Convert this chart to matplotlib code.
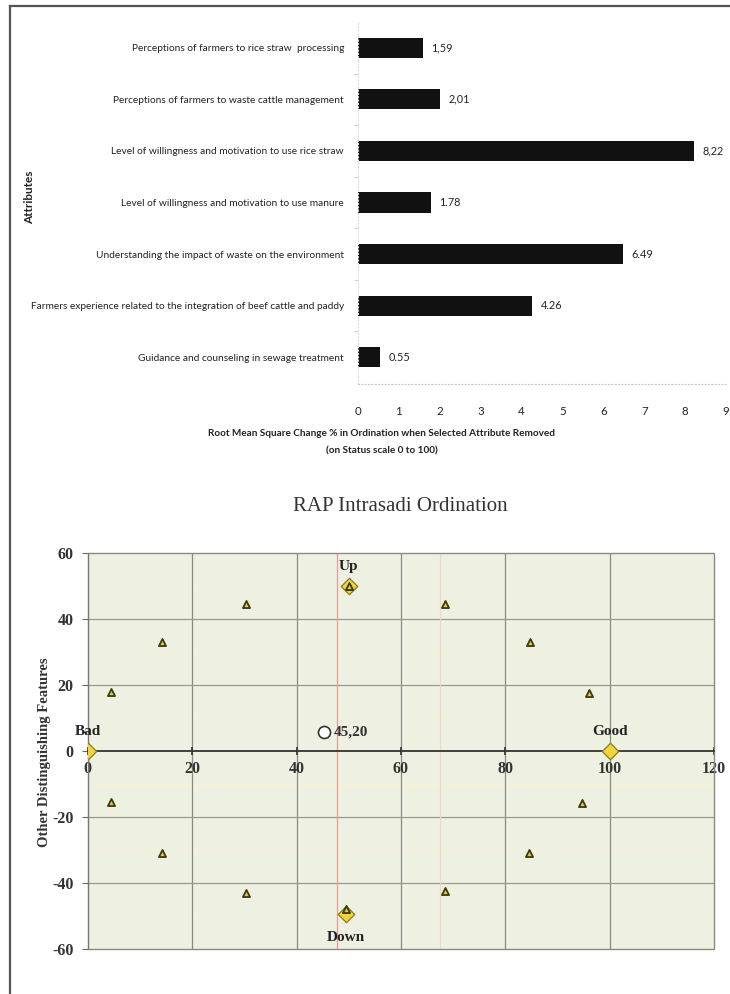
import matplotlib
matplotlib.use("Agg")
import matplotlib.pyplot as plt
from matplotlib.lines import Line2D
from matplotlib.patches import Rectangle

plt.rcParams['axes.unicode_minus'] = False
NARROW = ['Lato', 'DejaVu Sans']
SERIF = ['Liberation Serif', 'DejaVu Serif']

# leverage analysis
attributes = [
    "Perceptions of farmers to rice straw  processing",
    "Perceptions of farmers to waste cattle management",
    "Level of willingness and motivation to use rice straw",
    "Level of willingness and motivation to use manure",
    "Understanding the impact of waste on the environment",
    "Farmers experience related to the integration of beef cattle and paddy",
    "Guidance and counseling in sewage treatment",
]
rms_change = [1.59, 2.01, 8.22, 1.78, 6.49, 4.26, 0.55]
decimal_sep = [",", ",", ",", ".", ".", ".", "."]
x_ticks_bar = list(range(0, 10))

# ordination
status_score = 45.20
status_other = 5.7
anchor_names = ["Bad", "Good", "Up", "Down"]
anchor_x = [0, 100, 50, 49.5]
anchor_y = [0, 0, 50, -49.5]
ref_x = [4.4, 14.2, 30.3, 68.4, 84.8, 96.0, 4.4, 14.2, 30.3, 68.5, 84.5, 94.6, 50, 49.5]
ref_y = [18.0, 33.0, 44.5, 44.5, 33.0, 17.6, -15.5, -31.0, -43.0, -42.5, -31.0, -15.8, 50, -48]

fig = plt.figure(figsize=(7.3, 9.94), dpi=100)

# outer frame
fig.add_artist(Line2D([10/730, 10/730], [0, 1 - 6/994], transform=fig.transFigure,
                      color="#555555", lw=1.6))
fig.add_artist(Line2D([10/730, 1], [1 - 6/994, 1 - 6/994], transform=fig.transFigure,
                      color="#555555", lw=1.6))

# ---- bar chart ----
ax1 = fig.add_axes([358/730, 1 - 384/994, 368/730, 362/994])
pos = list(range(len(attributes)))
ax1.barh(pos, rms_change, height=0.39, color="#111111")
for p, v, s in zip(pos, rms_change, decimal_sep):
    ax1.text(v + 0.2, p, f"{v:.2f}".replace(".", s), va="center", ha="left",
             fontsize=7.8, family=NARROW, color="#222222")
ax1.set_ylim(6.52, -0.5)
ax1.set_xlim(0, 9)
ax1.set_yticks(pos)
ax1.set_yticklabels(attributes, fontsize=7.3, family=NARROW, color="#222222")
ax1.set_xticks(x_ticks_bar)
ax1.set_xticklabels([str(t) for t in x_ticks_bar], fontsize=8.3, family=NARROW, color="#222222")
ax1.tick_params(axis="y", length=0, pad=10)
ax1.tick_params(axis="x", length=0, pad=16)
ax1.set_yticks([p + 0.5 for p in pos[:-1]], minor=True)
ax1.tick_params(axis="y", which="minor", length=3, color="#cccccc")
for side in ["top", "right"]:
    ax1.spines[side].set_visible(False)
ax1.spines["left"].set_color("#dddddd")
ax1.spines["bottom"].set_color("#cccccc")
ax1.spines["left"].set_linestyle((0, (1, 2)))
ax1.spines["bottom"].set_linestyle((0, (1, 2)))

fig.text(381/730, 1 - 433/994, "Root Mean Square Change % in Ordination when Selected Attribute Removed",
         ha="center", va="center", fontsize=7.2, weight="bold", family=NARROW, color="#222222")
fig.text(382/730, 1 - 451/994, "(on Status scale 0 to 100)",
         ha="center", va="center", fontsize=7.2, weight="bold", family=NARROW, color="#222222")
fig.text(30/730, 1 - 197/994, "Attributes", rotation=90, ha="center", va="center",
         fontsize=8.5, weight="bold", family=NARROW, color="#222222")

# ---- ordination scatter ----
ax2 = fig.add_axes([87.7/730, 1 - 949/994, 626.5/730, 396/994])
ax2.set_facecolor("#eef0e2")
ax2.set_xlim(0, 120)
ax2.set_ylim(-60, 60)
for y in [-50, -30, -10, 10, 30, 50]:
    ax2.axhline(y, color="#f6f2d6", lw=1.0, zorder=0)
for x in range(20, 120, 20):
    ax2.axvline(x, color="#8a8a84", lw=0.9, zorder=1)
for y in [-40, -20, 20, 40]:
    ax2.axhline(y, color="#9a9a92", lw=0.9, zorder=1)
ax2.axvline(47.8, color="#e79a9a", lw=0.9, zorder=1)
ax2.axvline(67.5, color="#e8dcc8", lw=0.8, zorder=1)

ax2.scatter(ref_x, ref_y, marker="^", s=26, facecolor="#e8c832", edgecolor="#3a3a10",
            linewidths=1.3, zorder=4)
ax2.scatter(anchor_x, anchor_y, marker="D", s=70, facecolor="#f3d43c", edgecolor="#8a7a20",
            linewidths=0.9, zorder=3)
ax2.scatter([status_score], [status_other], marker="o", s=75, facecolor="white",
            edgecolor="#333333", linewidths=1.2, zorder=5)

lab_off = {"Bad": (0, 14), "Good": (0, 14), "Up": (0, 14), "Down": (0, -17)}
for name, x, y in zip(anchor_names, anchor_x, anchor_y):
    dx, dy = lab_off[name]
    ax2.annotate(name, (x, y), xytext=(dx, dy), textcoords="offset points",
                 ha="center", va="center", fontsize=11, weight="bold", family=SERIF,
                 color="#222222", zorder=6, annotation_clip=False)
ax2.annotate(f"{status_score:.2f}".replace(".", ","), (status_score, status_other),
             xytext=(7, 0), textcoords="offset points", ha="left", va="center",
             fontsize=11, weight="bold", family=SERIF, color="#333333", zorder=6)

ax2.spines["bottom"].set_position(("data", 0))
ax2.spines["bottom"].set_color("#333333")
ax2.spines["bottom"].set_linewidth(1.3)
ax2.spines["left"].set_color("#777777")
for side in ["top", "right"]:
    ax2.spines[side].set_visible(False)
ax2.add_patch(Rectangle((0, 0), 1, 1, transform=ax2.transAxes, fill=False,
                        edgecolor="#8a8a84", lw=1.0, zorder=2, clip_on=False))
ax2.set_xticks(range(0, 121, 20))
ax2.set_yticks(range(-60, 61, 20))
ax2.tick_params(axis="x", direction="inout", length=6, width=1.2, color="#333333", pad=4)
ax2.tick_params(axis="y", direction="out", length=4, color="#666666", pad=6)
for lab in ax2.get_xticklabels() + ax2.get_yticklabels():
    lab.set_family(SERIF)
    lab.set_fontweight("bold")
    lab.set_fontsize(11.5)
    lab.set_color("#333333")

fig.text(45/730, 1 - 752/994, "Other Distinguishing Features", rotation=90, ha="center",
         va="center", fontsize=10.5, weight="bold", family=SERIF, color="#333333")
fig.text(400/730, 1 - 507/994, "RAP Intrasadi Ordination", ha="center", va="center",
         fontsize=15, family=SERIF, color="#333333")

fig.savefig("out.png", dpi=100, facecolor="white")
